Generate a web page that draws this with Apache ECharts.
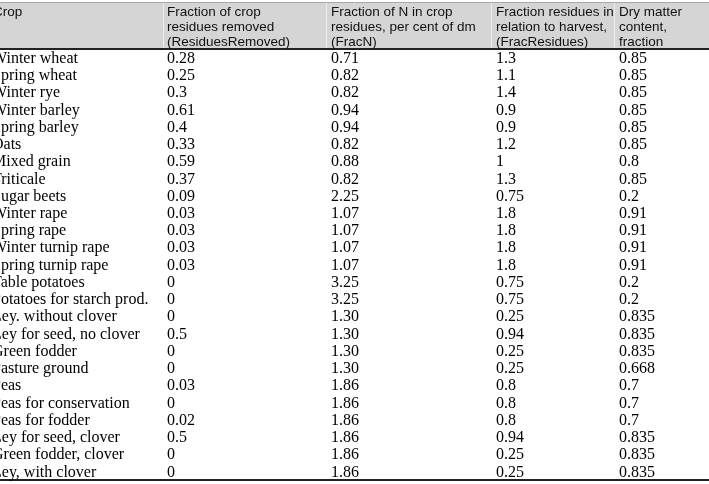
<!DOCTYPE html>
<html>
<head>
<meta charset="utf-8">
<script src="https://cdn.jsdelivr.net/npm/echarts@6/dist/echarts.min.js"></script>
<style>
  html, body { margin: 0; padding: 0; background: #fff; }
  #chart { width: 709px; height: 484px; }
</style>
</head>
<body>
<div id="chart"></div>
<script>
// table data
const headers = [
  'Crop',
  'Fraction of crop\nresidues removed\n(ResiduesRemoved)',
  'Fraction of N in crop\nresidues, per cent of dm\n(FracN)',
  'Fraction residues in\nrelation to harvest,\n(FracResidues)',
  'Dry matter\ncontent,\nfraction'
]
const crops = [
  'Winter wheat', 'Spring wheat', 'Winter rye', 'Winter barley', 'Spring barley',
  'Oats', 'Mixed grain', 'Triticale', 'Sugar beets', 'Winter rape',
  'Spring rape', 'Winter turnip rape', 'Spring turnip rape', 'Table potatoes',
  'Potatoes for starch prod.', 'Ley. without clover', 'Ley for seed, no clover',
  'Green fodder', 'Pasture ground', 'Peas', 'Peas for conservation',
  'Peas for fodder', 'Ley for seed, clover', 'Green fodder, clover', 'Ley, with clover'
]
const residuesRemoved = [0.28, 0.25, 0.3, 0.61, 0.4, 0.33, 0.59, 0.37, 0.09, 0.03,
  0.03, 0.03, 0.03, 0, 0, 0, 0.5, 0, 0, 0.03, 0, 0.02, 0.5, 0, 0]
const fracN = [0.71, 0.82, 0.82, 0.94, 0.94, 0.82, 0.88, 0.82, 2.25, 1.07,
  1.07, 1.07, 1.07, 3.25, 3.25, 1.30, 1.30, 1.30, 1.30, 1.86, 1.86, 1.86, 1.86, 1.86, 1.86]
const fracResidues = [1.3, 1.1, 1.4, 0.9, 0.9, 1.2, 1, 1.3, 0.75, 1.8,
  1.8, 1.8, 1.8, 0.75, 0.75, 0.25, 0.94, 0.25, 0.25, 0.8, 0.8, 0.8, 0.94, 0.25, 0.25]
const dryMatter = [0.85, 0.85, 0.85, 0.85, 0.85, 0.85, 0.8, 0.85, 0.2, 0.91,
  0.91, 0.91, 0.91, 0.2, 0.2, 0.835, 0.835, 0.835, 0.668, 0.7, 0.7, 0.7, 0.835, 0.835, 0.835]

// layout
const colX = [-8, 167, 331, 496, 619]
const headX = [-7, 167, 331, 496, 619]
const sepX = [163, 326, 491, 614]
const headTop = 3, headBottom = 49, tableBottom = 480

const rows = crops.map((c, i) => [i, c, String(residuesRemoved[i]), fracN[i].toFixed(2),
  String(fracResidues[i]), String(dryMatter[i])])

const chart = echarts.init(document.getElementById('chart'))

const graphics = [
  { type: 'rect', shape: { x: 0, y: headTop, width: 709, height: headBottom - headTop },
    style: { fill: '#d5d5d5' }, z: 0 },
  { type: 'line', shape: { x1: 0, y1: headTop - 0.5, x2: 709, y2: headTop - 0.5 },
    style: { stroke: '#a8a8a8', lineWidth: 1 } },
  { type: 'line', shape: { x1: 0, y1: headBottom, x2: 709, y2: headBottom },
    style: { stroke: '#222', lineWidth: 2 } },
  { type: 'line', shape: { x1: 0, y1: tableBottom, x2: 709, y2: tableBottom },
    style: { stroke: '#222', lineWidth: 2 } }
]
sepX.forEach(x => graphics.push({
  type: 'line', shape: { x1: x + 0.5, y1: headTop, x2: x + 0.5, y2: headBottom - 1 },
  style: { stroke: '#ededed', lineWidth: 1 }
}))
headers.forEach((h, k) => graphics.push({
  type: 'text', x: headX[k], y: headTop + 2,
  style: { text: h, fill: '#111', font: '13.5px "Liberation Sans", Arial, sans-serif', lineHeight: 15 }
}))

chart.setOption({
  animation: false,
  grid: { left: 0, right: 0, top: 50, bottom: 3 },
  xAxis: { type: 'value', min: 0, max: 709, show: false },
  yAxis: { type: 'category', data: crops, inverse: true, show: false },
  graphic: graphics,
  series: [{
    type: 'custom',
    data: rows,
    encode: { y: 0 },
    renderItem: (params, api) => {
      const i = api.value(0)
      const row = rows[i]
      return {
        type: 'group',
        children: colX.map((x, k) => {
          const p = api.coord([x, i])
          return {
            type: 'text', x: p[0], y: p[1],
            style: {
              text: row[k + 1], fill: '#000', verticalAlign: 'middle',
              font: '16px "Liberation Serif", "Times New Roman", serif'
            }
          }
        })
      }
    }
  }]
})
</script>
</body>
</html>
